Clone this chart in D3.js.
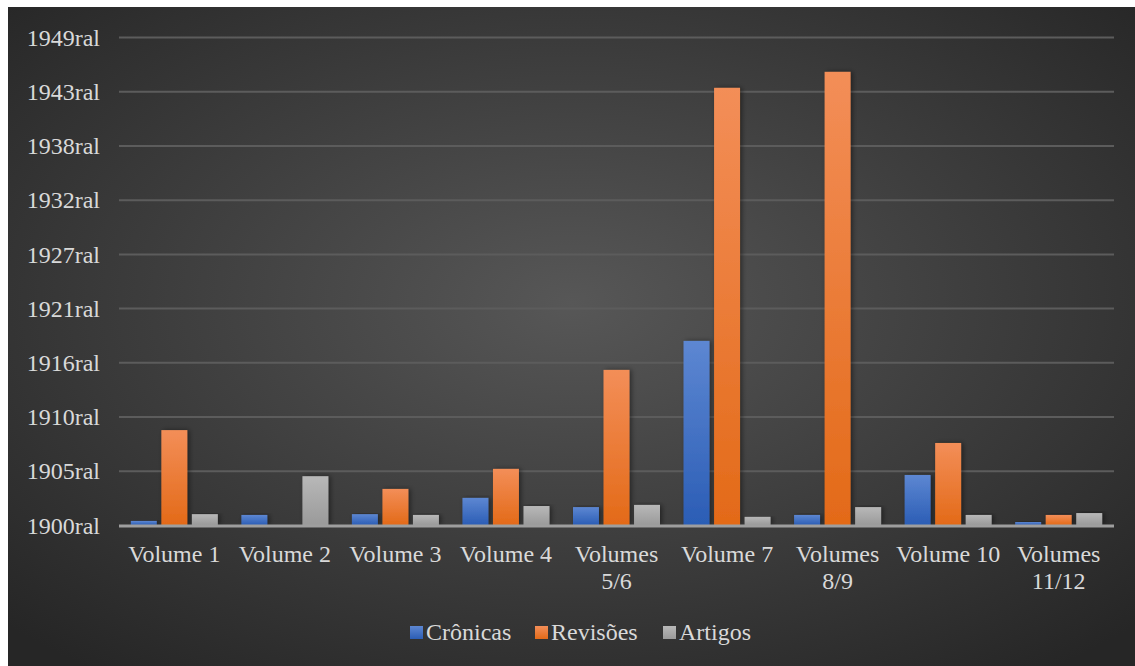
<!DOCTYPE html>
<html>
<head>
<meta charset="utf-8">
<script src="https://cdn.jsdelivr.net/npm/d3@7"></script>
<style>
  body { margin: 0; background: #fff; }
</style>
</head>
<body>
<div id="chart"></div>
<script>
const categories = ['Volume 1', 'Volume 2', 'Volume 3', 'Volume 4', 'Volumes 5/6', 'Volume 7', 'Volumes 8/9', 'Volume 10', 'Volumes 11/12'];
const cronicas = [150, 370, 400, 1000, 660, 6790, 370, 1845, 110];
const revisoes = [3500, 0, 1330, 2070, 5720, 16125, 16715, 3025, 370];
const artigos = [400, 1800, 370, 700, 740, 300, 660, 370, 440];
const seriesNames = ['Crônicas', 'Revisões', 'Artigos'];
const tickValues = [0, 2000, 4000, 6000, 8000, 10000, 12000, 14000, 16000, 18000];
const tickLabels = ['1900ral', '1905ral', '1910ral', '1916ral', '1921ral', '1927ral', '1932ral', '1938ral', '1943ral', '1949ral'];

const width = 1135;
const height = 666;
const margin = {left: 119, right: 21, top: 37, bottom: 141};
const fontFamily = '"Liberation Serif"';
const textColor = '#d9d9d9';

const colors = [
    ['#5d87d2', '#2b5db5'],
    ['#f38e58', '#e36a18'],
    ['#b8b8b8', '#9a9a9a']
];

const svg = d3.select('#chart').append('svg')
    .attr('width', width).attr('height', height);

const defs = svg.append('defs');
const bg = defs.append('radialGradient').attr('id', 'bg')
    .attr('cx', '50%').attr('cy', '45%').attr('r', '70%');
bg.append('stop').attr('offset', '0%').attr('stop-color', '#575757');
bg.append('stop').attr('offset', '100%').attr('stop-color', '#262626');

colors.forEach((c, i) => {
    const g = defs.append('linearGradient').attr('id', 'bar' + i)
        .attr('x1', 0).attr('y1', 0).attr('x2', 0).attr('y2', 1);
    g.append('stop').attr('offset', '0%').attr('stop-color', c[0]);
    g.append('stop').attr('offset', '100%').attr('stop-color', c[1]);
});

const shadow = defs.append('filter').attr('id', 'shadow')
    .attr('x', '-30%').attr('y', '-10%').attr('width', '160%').attr('height', '120%');
shadow.append('feDropShadow').attr('dx', 2).attr('dy', 0).attr('stdDeviation', 2.5)
    .attr('flood-color', '#000').attr('flood-opacity', 0.45);

svg.append('rect')
    .attr('x', 8).attr('y', 7)
    .attr('width', width - 8).attr('height', height - 7)
    .attr('fill', 'url(#bg)');

const y = d3.scaleLinear()
    .domain([0, 18000])
    .range([525, margin.top]);

const x0 = d3.scaleBand()
    .domain(categories)
    .range([margin.left, width - margin.right])
    .paddingInner(0.213)
    .paddingOuter(0.107);

const x1 = d3.scaleBand()
    .domain(d3.range(3))
    .range([0, x0.bandwidth()])
    .paddingInner(0.15);

// grid lines + y labels
const yAxis = d3.axisLeft(y)
    .tickValues(tickValues)
    .tickSize(-(width - margin.right - margin.left))
    .tickFormat((d, i) => tickLabels[i]);

const ga = svg.append('g')
    .attr('transform', `translate(${margin.left},0)`)
    .call(yAxis);
ga.select('.domain').remove();
ga.selectAll('.tick line').attr('stroke', '#5c5c5c').attr('stroke-width', 2);
ga.selectAll('.tick text')
    .attr('x', -19)
    .attr('dy', '0.34em')
    .attr('fill', textColor)
    .style('font-family', fontFamily)
    .style('font-size', '24px');
ga.selectAll('.tick').filter(d => d === 0).select('line').remove();

// bars
const seriesData = [cronicas, revisoes, artigos];
const groups = svg.append('g').selectAll('g')
    .data(categories)
    .enter()
    .append('g')
    .attr('transform', d => `translate(${x0(d)},0)`);

groups.selectAll('rect')
    .data((d, ci) => seriesData.map((s, si) => ({si: si, v: s[ci]})))
    .enter()
    .filter(d => d.v > 0)
    .append('rect')
    .attr('x', d => x1(d.si))
    .attr('y', d => y(d.v))
    .attr('width', x1.bandwidth())
    .attr('height', d => y(0) - y(d.v))
    .attr('fill', d => 'url(#bar' + d.si + ')')
    .attr('filter', 'url(#shadow)');

// baseline
svg.append('line')
    .attr('x1', margin.left).attr('x2', width - margin.right)
    .attr('y1', y(0) + 1).attr('y2', y(0) + 1)
    .attr('stroke', '#9e9e9e').attr('stroke-width', 3);

// x labels
const xLabels = svg.append('g').selectAll('text')
    .data(categories)
    .enter()
    .append('text')
    .attr('x', d => x0(d) + x0.bandwidth() / 2)
    .attr('y', 562)
    .attr('text-anchor', 'middle')
    .attr('fill', textColor)
    .style('font-family', fontFamily)
    .style('font-size', '24px');

xLabels.each(function (d) {
    const t = d3.select(this);
    const parts = d.startsWith('Volumes') ? d.split(' ') : [d];
    parts.forEach((p, i) => {
        t.append('tspan')
            .attr('x', x0(d) + x0.bandwidth() / 2)
            .attr('dy', i === 0 ? 0 : 27)
            .text(p);
    });
});

// legend
const legendX = [410, 535, 663];
const legend = svg.append('g').selectAll('g')
    .data(seriesNames)
    .enter()
    .append('g')
    .attr('transform', (d, i) => `translate(${legendX[i]},0)`);

legend.append('rect')
    .attr('x', 0).attr('y', 626)
    .attr('width', 13).attr('height', 13)
    .attr('fill', (d, i) => 'url(#bar' + i + ')');

legend.append('text')
    .attr('x', 16).attr('y', 640)
    .attr('fill', textColor)
    .style('font-family', fontFamily)
    .style('font-size', '24px')
    .text(d => d);
</script>
</body>
</html>
